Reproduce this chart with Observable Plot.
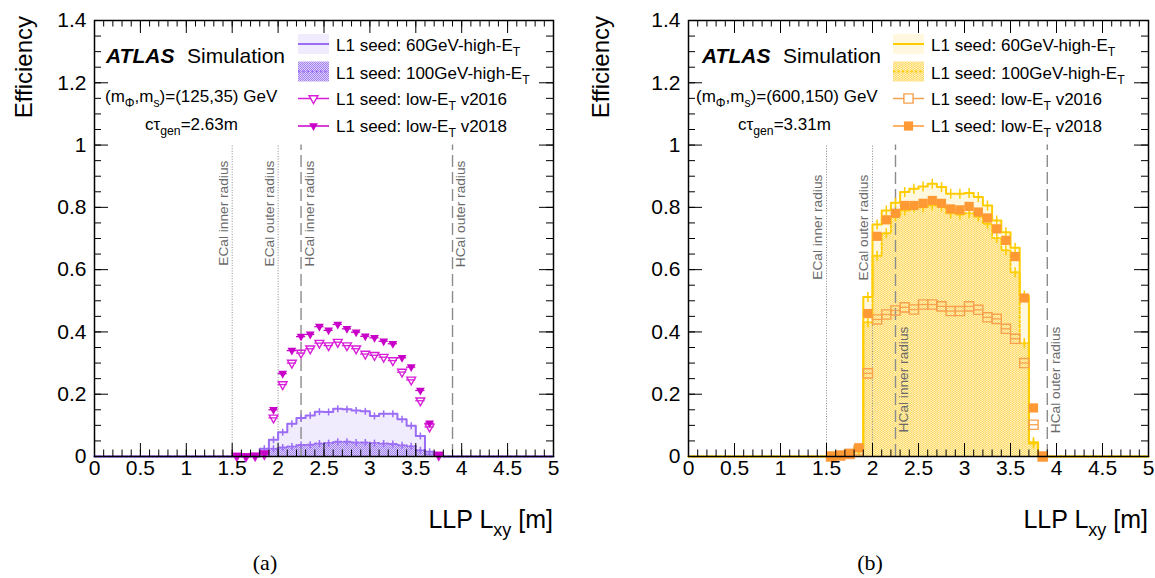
<!DOCTYPE html>
<html><head><meta charset="utf-8">
<script src="https://cdn.jsdelivr.net/npm/d3@7"></script>
<script src="https://cdn.jsdelivr.net/npm/@observablehq/plot@0.6"></script>
<style>
body{margin:0;background:#fff;}
#wrap{position:relative;width:1155px;height:578px;overflow:hidden;background:#fff;}
.panel{position:absolute;top:0;}
.cap{position:absolute;top:550px;font-family:"Liberation Serif","DejaVu Serif",serif;font-size:22px;transform:translateX(-50%);color:#000;}
</style></head><body><div id="wrap"></div>
<script>
// ---------- data ----------
const binStart = 1.8;          // first non-empty histogram bin edge [m]
const binWidth = 0.1;          // histogram bin width [m]
const markerStart = 1.55;      // first marker bin centre [m]

// panel (a): (mPhi,ms)=(125,35) GeV
const histA60  = [0.025,0.054,0.078,0.105,0.124,0.132,0.144,0.143,0.153,0.152,0.148,0.145,0.130,0.137,0.137,0.120,0.099,0.066,0.015,0.004];
const histA100 = [0.008,0.025,0.029,0.032,0.037,0.038,0.042,0.043,0.047,0.047,0.045,0.045,0.043,0.042,0.040,0.036,0.033,0.020,0.007,0.002];
const lowA2016 = [0.001,0.000,0.002,0.007,0.124,0.231,0.300,0.332,0.346,0.364,0.356,0.367,0.356,0.346,0.329,0.325,0.319,0.308,0.271,0.246,0.179,0.095,0.004];
const lowA2018 = [0.003,0.001,0.003,0.011,0.150,0.266,0.340,0.385,0.392,0.417,0.405,0.424,0.410,0.399,0.386,0.381,0.370,0.362,0.317,0.287,0.212,0.107,0.006];

// panel (b): (mPhi,ms)=(600,150) GeV
const histB60  = [0.025,0.512,0.745,0.790,0.815,0.849,0.860,0.867,0.876,0.865,0.844,0.844,0.846,0.833,0.806,0.758,0.720,0.670,0.517,0.046];
const histB100 = [0.020,0.431,0.645,0.717,0.771,0.790,0.800,0.800,0.806,0.803,0.781,0.777,0.781,0.771,0.747,0.702,0.662,0.592,0.364,0.042];
const lowB2016 = [0.000,0.003,0.008,0.020,0.267,0.440,0.456,0.469,0.479,0.472,0.488,0.488,0.482,0.467,0.467,0.482,0.471,0.447,0.442,0.410,0.378,0.300,0.102,0.000];
const lowB2018 = [0.000,0.003,0.010,0.028,0.459,0.707,0.760,0.781,0.806,0.806,0.813,0.822,0.813,0.795,0.792,0.803,0.785,0.766,0.731,0.694,0.642,0.509,0.156,0.000];

const detectorRadii  = [1.5, 2.0, 2.25, 3.9];
const detectorLabels = ["ECal inner radius","ECal outer radius","HCal inner radius","HCal outer radius"];
const xTickLabels = [0,0.5,1,1.5,2,2.5,3,3.5,4,4.5,5];
const yTickLabels = [0,0.2,0.4,0.6,0.8,1,1.2,1.4];
const massesA = "125,35", ctauA = "2.63m";
const massesB = "600,150", ctauB = "3.31m";

// ---------- helpers ----------
const FONT = "Liberation Sans, Arial, Helvetica, sans-serif";
function stepPts(vals){
  const pts=[{x:0,y:0},{x:binStart,y:0}];
  vals.forEach((v,i)=>{const lo=+(binStart+i*binWidth).toFixed(3);pts.push({x:lo,y:v},{x:+(lo+binWidth).toFixed(3),y:v});});
  const end=+(binStart+vals.length*binWidth).toFixed(3);
  pts.push({x:end,y:0},{x:5,y:0});
  return pts;
}
function binCentres(vals){return vals.map((v,i)=>({x:+(binStart+binWidth/2+i*binWidth).toFixed(3),y:v})).filter(d=>d.y>0.01);}
function markerPts(vals){return vals.map((v,i)=>({x:+(markerStart+i*binWidth).toFixed(3),y:v}));}
const triDown={draw(c){c.moveTo(-4.4,-2.8);c.lineTo(4.4,-2.8);c.lineTo(0,5);c.closePath();}};
const square={draw(c){c.rect(-4.6,-4.6,9.2,9.2);}};
const vbar={draw(c){c.moveTo(0,-3.5);c.lineTo(0,3.5);}};
const vbarB={draw(c){c.moveTo(0,-5);c.lineTo(0,5);}};

function rich(g,x,y,parts,fs,opts={}){
  const t=g.append("text").attr("x",x).attr("y",y).attr("font-size",fs).attr("font-family",FONT)
    .attr("font-weight","normal").attr("fill",opts.fill||"#000").attr("text-anchor",opts.anchor||"start");
  if(opts.transform)t.attr("transform",opts.transform);
  let shift=0;
  parts.forEach(p=>{
    const isSub=Array.isArray(p);
    const s=isSub?p[0]:p;
    const want=isSub?0.32*fs:0;
    const ts=t.append("tspan").text(s).attr("dy",want-shift);
    if(isSub)ts.attr("font-size",fs*0.72);
    shift=want;
  });
  return t;
}

function panel(cfg){
  const W=cfg.width,H=545,mt=20,mb=89;
  const pxY=1.4/(H-mt-mb), pxX=5/(W-cfg.ml-cfg.mr);
  const xMinor=d3.range(0,5.0001,0.1).map(v=>+v.toFixed(2));
  const yMinor=d3.range(0,1.4001,0.05).map(v=>+v.toFixed(3));
  const h60=stepPts(cfg.h60), h100=stepPts(cfg.h100);
  const m16=markerPts(cfg.m16), m18=markerPts(cfg.m18);
  const sym=cfg.square?square:triDown;
  const fmt=d=>String(+(+d).toFixed(1));
  const marks=[
    Plot.areaY(h60,{x:"x",y1:0,y2:"y",fill:cfg.fill60}),
    Plot.areaY(h100,{x:"x",y1:0,y2:"y",fill:`url(#${cfg.id}hatch)`}),
  ];
  detectorRadii.forEach((r,i)=>{
    const ecal=i<2;
    marks.push(Plot.ruleX([r],{x:d=>d,y1:0,y2:1.0,stroke:"#8c8c8c",strokeWidth:ecal?1:1.4,strokeDasharray:ecal?"1,1.6":"12,5"}));
    marks.push(Plot.text([detectorLabels[i]],{x:()=>r,y:()=>cfg.labelTop[i],text:d=>d,rotate:-90,textAnchor:"end",dx:cfg.labelSide[i]*8.5,fill:"#6a6a6a",fontSize:13.7,fontFamily:FONT}));
  });
  marks.push(
    Plot.line(h100,{x:"x",y:"y",stroke:cfg.line,strokeWidth:2,strokeDasharray:"2.2,2.2"}),
    Plot.line(h60,{x:"x",y:"y",stroke:cfg.line,strokeWidth:2}),
    Plot.dot(binCentres(cfg.h60),{x:"x",y:"y",symbol:cfg.square?vbarB:vbar,stroke:cfg.line,strokeWidth:1.5,fill:"none"}),
    Plot.dot(binCentres(cfg.h100),{x:"x",y:"y",symbol:cfg.square?vbarB:vbar,stroke:cfg.line,strokeWidth:1.5,fill:"none"}),
    Plot.ruleY(m16,{y:"y",x1:d=>d.x-binWidth/2,x2:d=>d.x+binWidth/2,stroke:cfg.mk16,strokeWidth:1.3}),
    Plot.dot(m16,{x:"x",y:"y",symbol:sym,stroke:cfg.mk16,strokeWidth:1.4,fill:"none"}),
    Plot.ruleY(m18,{y:"y",x1:d=>d.x-binWidth/2,x2:d=>d.x+binWidth/2,stroke:cfg.mk18,strokeWidth:1.3}),
    Plot.dot(m18,{x:"x",y:"y",symbol:sym,fill:cfg.mk18,stroke:"none"}),
    // ROOT-style inner ticks on all four sides
    Plot.ruleX(xMinor,{x:d=>d,y1:0,y2:6.5*pxY,stroke:"#000",strokeWidth:1}),
    Plot.ruleX(xTickLabels,{x:d=>d,y1:0,y2:13*pxY,stroke:"#000",strokeWidth:1}),
    Plot.ruleX(xMinor,{x:d=>d,y1:1.4,y2:1.4-6.5*pxY,stroke:"#000",strokeWidth:1}),
    Plot.ruleX(xTickLabels,{x:d=>d,y1:1.4,y2:1.4-13*pxY,stroke:"#000",strokeWidth:1}),
    Plot.ruleY(yMinor,{y:d=>d,x1:0,x2:7*pxX,stroke:"#000",strokeWidth:1}),
    Plot.ruleY(yTickLabels,{y:d=>d,x1:0,x2:14*pxX,stroke:"#000",strokeWidth:1}),
    Plot.ruleY(yMinor,{y:d=>d,x1:5,x2:5-7*pxX,stroke:"#000",strokeWidth:1}),
    Plot.ruleY(yTickLabels,{y:d=>d,x1:5,x2:5-14*pxX,stroke:"#000",strokeWidth:1}),
    Plot.frame({stroke:"#000",strokeWidth:1.5}),
    Plot.axisX({ticks:xTickLabels,tickSize:0,tickPadding:4,tickFormat:fmt,fontSize:21,label:null}),
    Plot.axisY({ticks:yTickLabels,tickSize:0,tickPadding:8,tickFormat:fmt,fontSize:21,label:null})
  );
  const svg=Plot.plot({
    width:W,height:H,marginLeft:cfg.ml,marginRight:cfg.mr,marginTop:mt,marginBottom:mb,
    x:{domain:[0,5]},y:{domain:[0,1.4]},
    style:{fontFamily:FONT,fontSize:"21px",color:"#000",background:"transparent",overflow:"visible"},
    marks
  });
  // hatch pattern
  const defs=d3.select(svg).insert("defs",":first-child");
  const p=defs.append("pattern").attr("id",cfg.id+"hatch").attr("patternUnits","userSpaceOnUse").attr("width",cfg.pat.w).attr("height",2);
  p.append("rect").attr("width",cfg.pat.w).attr("height",2).attr("fill",cfg.pat.base);
  cfg.pat.dots.forEach(([x,y,w,h,c])=>p.append("rect").attr("x",x).attr("y",y).attr("width",w).attr("height",h).attr("fill",c));

  const xs=svg.scale("x"), ys=svg.scale("y");
  const g=d3.select(svg).append("g").attr("text-anchor","start");
  // axis titles
  rich(g,xs.apply(5),528,["LLP L",["xy"]," [m]"],25,{anchor:"end"});
  rich(g,0,0,["Efficiency"],24,{anchor:"end",transform:`translate(32,${ys.apply(1.4)-4}) rotate(-90)`});
  // ATLAS label
  const a=cfg.atlas;
  g.append("text").attr("x",a.x).attr("y",63).attr("font-family",FONT).attr("font-size",21).attr("font-weight","bold").attr("font-style","italic").attr("text-anchor","start").text("ATLAS");
  g.append("text").attr("x",a.x+81).attr("y",63).attr("font-family",FONT).attr("font-size",21).attr("text-anchor","start").text("Simulation");
  rich(g,a.mx,102,["(m",["Φ"],",m",["s"],`)=(${cfg.masses}) GeV`],17);
  rich(g,a.cx,130,["cτ",["gen"],"="+cfg.ctau],17);
  // legend
  const lx=cfg.legX, lw=31, rows=[44,71.5,98.5,126];
  g.append("rect").attr("x",lx).attr("y",rows[0]-10).attr("width",lw).attr("height",20).attr("fill",cfg.fill60);
  g.append("line").attr("x1",lx).attr("x2",lx+lw).attr("y1",rows[0]).attr("y2",rows[0]).attr("stroke",cfg.line).attr("stroke-width",2);
  g.append("rect").attr("x",lx).attr("y",rows[1]-10).attr("width",lw).attr("height",20).attr("fill",`url(#${cfg.id}hatch)`);
  g.append("line").attr("x1",lx).attr("x2",lx+lw).attr("y1",rows[1]).attr("y2",rows[1]).attr("stroke",cfg.line).attr("stroke-width",2).attr("stroke-dasharray","2.2,2.2");
  const symPath=d3.path();
  sym.draw(symPath);
  [[rows[2],cfg.mk16,false],[rows[3],cfg.mk18,true]].forEach(([ry,col,filled])=>{
    g.append("line").attr("x1",lx).attr("x2",lx+lw).attr("y1",ry).attr("y2",ry).attr("stroke",col).attr("stroke-width",1.5);
    g.append("path").attr("d",symPath.toString()).attr("transform",`translate(${lx+lw/2},${ry})`)
      .attr("fill",filled?col:"#fff").attr("stroke",filled?"none":col).attr("stroke-width",1.4);
  });
  const tx=lx+lw+7;
  rich(g,tx,51,["L1 seed: 60GeV-high-E",["T"]],17);
  rich(g,tx,78.5,["L1 seed: 100GeV-high-E",["T"]],17);
  rich(g,tx,104.5,["L1 seed: low-E",["T"]," v2016"],17);
  rich(g,tx,132,["L1 seed: low-E",["T"]," v2018"],17);
  svg.classList.add("panel");
  svg.style.left=cfg.offset+"px";
  return svg;
}

const wrap=document.getElementById("wrap");
wrap.appendChild(panel({
  id:"a",offset:0,width:577,ml:94,mr:24,
  h60:histA60,h100:histA100,m16:lowA2016,m18:lowA2018,square:false,
  line:"#9b6cf5",fill60:"#f0ebfd",mk16:"#d81ed8",mk18:"#c800c8",
  pat:{w:2,base:"#dcd0fa",dots:[[0,0,1,1,"#a382f0"],[1,1,1,1,"#a382f0"]]},
  labelTop:[0.95,0.95,0.95,0.95],labelSide:[-1,-1,1,1],
  atlas:{x:106,mx:105,cx:145},masses:massesA,ctau:ctauA,legX:298
}));
wrap.appendChild(panel({
  id:"b",offset:577,width:578,ml:111,mr:7,
  h60:histB60,h100:histB100,m16:lowB2016,m18:lowB2018,square:true,
  line:"#ffcc00",fill60:"#fff8df",mk16:"#f7a04e",mk18:"#ff9933",
  pat:{w:3,base:"#fcd860",dots:[[0,0,1,1,"#fff0ba"],[1,1,1,1,"#fff0ba"],[2,0,1,2,"#fde79c"]]},
  labelTop:[0.905,0.905,0.417,0.417],labelSide:[-1,-1,1,1],
  atlas:{x:125,mx:119,cx:161},masses:massesB,ctau:ctauB,legX:316
}));
[["(a)",265],["(b)",870]].forEach(([t,x])=>{const d=document.createElement("div");d.className="cap";d.style.left=x+"px";d.textContent=t;wrap.appendChild(d);});
</script></body></html>
